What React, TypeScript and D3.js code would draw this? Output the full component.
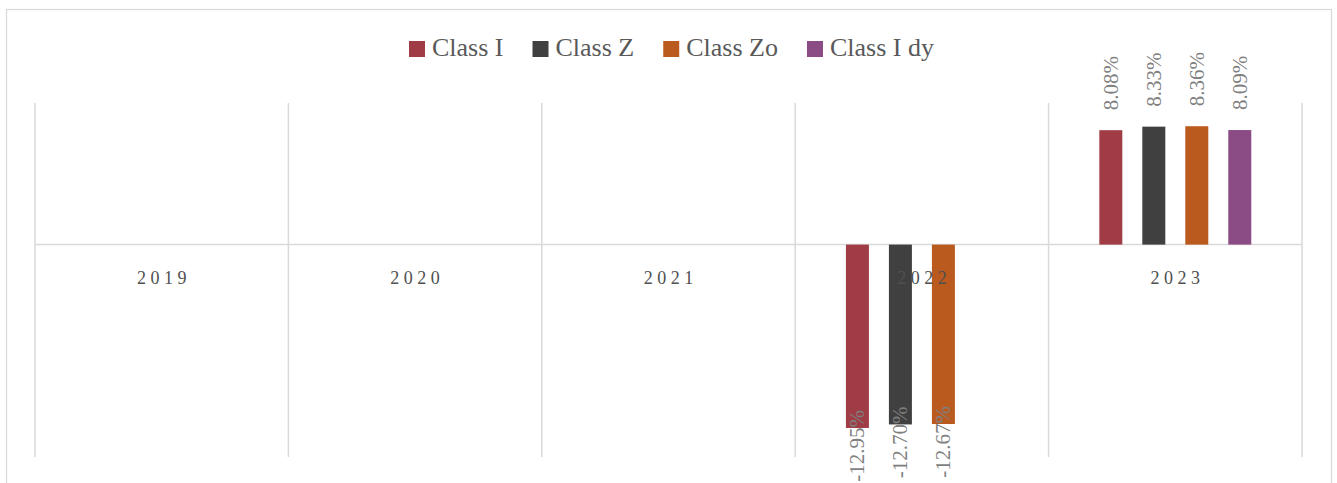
import React, { useEffect, useRef } from "react";
import * as d3 from "d3";

const years = ["2019", "2020", "2021", "2022", "2023"];
const seriesNames = ["Class I", "Class Z", "Class Zo", "Class I dy"];
const seriesColors = ["#a03c45", "#404040", "#bb5a1f", "#8b4b84"];
const classI: (number | null)[] = [null, null, null, -12.95, 8.08];
const classZ: (number | null)[] = [null, null, null, -12.7, 8.33];
const classZo: (number | null)[] = [null, null, null, -12.67, 8.36];
const classIdy: (number | null)[] = [null, null, null, null, 8.09];
const seriesValues = [classI, classZ, classZo, classIdy];
const yDomain = [-15, 10];

const W = 1337;
const H = 483;
const FONT = "'Liberation Serif', 'Times New Roman', serif";

export default function App() {
  const ref = useRef<SVGSVGElement | null>(null);

  useEffect(() => {
    const svg = d3.select(ref.current);
    svg.selectAll("*").remove();

    const left = 35, right = 1302, top = 103, bottom = 457;
    const x0 = d3.scaleBand<string>().domain(years).range([left, right]).padding(0);
    const x1 = d3
      .scaleBand<string>()
      .domain(seriesNames)
      .range([0, x0.bandwidth()])
      .paddingInner(0.465)
      .paddingOuter(1.18);
    const y = d3.scaleLinear().domain(yDomain).range([bottom, top]);

    // outer border
    svg
      .append("rect")
      .attr("x", 6.5)
      .attr("y", 9.5)
      .attr("width", 1325)
      .attr("height", 490)
      .attr("fill", "#fff")
      .attr("stroke", "#d9d9d9")
      .attr("stroke-width", 1.25);

    // vertical gridlines at category boundaries
    const bounds = years.map((yr) => x0(yr) as number).concat([right]);
    svg
      .append("g")
      .selectAll("line")
      .data(bounds)
      .join("line")
      .attr("x1", (d) => d)
      .attr("x2", (d) => d)
      .attr("y1", top)
      .attr("y2", bottom)
      .attr("stroke", "#d9d9d9")
      .attr("stroke-width", 1.5);

    // zero line
    svg
      .append("line")
      .attr("x1", left)
      .attr("x2", right)
      .attr("y1", y(0))
      .attr("y2", y(0))
      .attr("stroke", "#d9d9d9")
      .attr("stroke-width", 1.5);

    type Pt = { year: string; s: string; i: number; v: number };
    const pts: Pt[] = [];
    seriesValues.forEach((arr, i) => {
      arr.forEach((v, j) => {
        if (v !== null) pts.push({ year: years[j], s: seriesNames[i], i, v });
      });
    });

    // bars
    svg
      .append("g")
      .selectAll("rect")
      .data(pts)
      .join("rect")
      .attr("x", (d) => (x0(d.year) as number) + (x1(d.s) as number))
      .attr("width", x1.bandwidth())
      .attr("y", (d) => Math.min(y(d.v), y(0)))
      .attr("height", (d) => Math.abs(y(d.v) - y(0)))
      .attr("fill", (d) => seriesColors[d.i]);

    // year labels
    const ls = 4.5;
    svg
      .append("g")
      .selectAll("text")
      .data(years)
      .join("text")
      .attr("x", (d) => (x0(d) as number) + x0.bandwidth() / 2 + ls / 2)
      .attr("y", 284)
      .attr("text-anchor", "middle")
      .attr("font-family", FONT)
      .attr("font-size", 18)
      .attr("letter-spacing", ls)
      .attr("fill", "#505050")
      .text((d) => d);

    // data labels
    svg
      .append("g")
      .selectAll("text")
      .data(pts)
      .join("text")
      .attr("transform", (d) => {
        const cx = (x0(d.year) as number) + (x1(d.s) as number) + x1.bandwidth() / 2 + 7;
        const cy = d.v >= 0 ? y(d.v) - 20 : y(d.v) - 18;
        return `translate(${cx},${cy}) rotate(-90)`;
      })
      .attr("text-anchor", (d) => (d.v >= 0 ? "start" : "end"))
      .attr("font-family", FONT)
      .attr("font-size", 21)
      .attr("fill", "#7f7f7f")
      .text((d) => d.v.toFixed(2) + "%");

    // legend
    const lg = svg.append("g");
    let lx = 409;
    seriesNames.forEach((name, i) => {
      lg.append("rect")
        .attr("x", lx)
        .attr("y", 41)
        .attr("width", 16)
        .attr("height", 16)
        .attr("fill", seriesColors[i]);
      const t = lg
        .append("text")
        .attr("x", lx + 23)
        .attr("y", 55.5)
        .attr("font-family", FONT)
        .attr("font-size", 26)
        .attr("fill", "#595959")
        .text(name);
      const w = (t.node() as SVGTextElement).getComputedTextLength();
      lx = lx + 23 + w + 29;
    });
  }, []);

  return (
    <svg
      ref={ref}
      width={W}
      height={H}
      style={{ position: "absolute", left: 0, top: 0, display: "block", background: "#fff" }}
    />
  );
}
